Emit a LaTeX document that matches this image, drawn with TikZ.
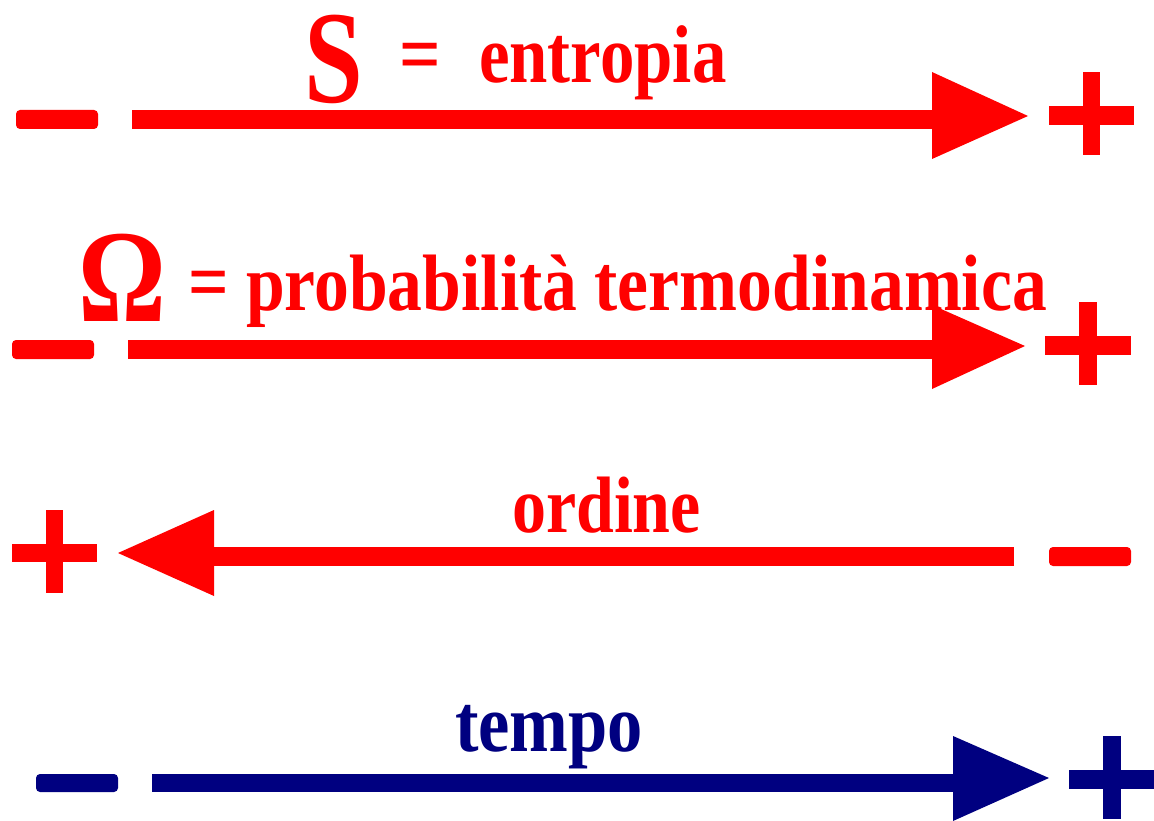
\documentclass[tikz,border=0pt]{standalone}
\usepackage{fontspec}
\setmainfont{Liberation Serif}
\definecolor{redc}{HTML}{FF0000}
\definecolor{navyc}{HTML}{000080}
\tikzset{
  lbl/.style={anchor=base west, inner sep=0pt, outer sep=0pt},
  shaft/.style={line width=19pt},
  minusbar/.style={rounded corners=4pt},
}
\newcommand{\bigtxt}[2]{\fontsize{#1}{#1}\selectfont\bfseries #2}
\begin{document}
\begin{tikzpicture}[x=1pt,y=-1pt]
\useasboundingbox (0,0) rectangle (1154,821);
\fill[white] (0,0) rectangle (1154,821);

% ---------- Row 1 : S = entropia ----------
\begin{scope}[redc]
\node[lbl, text=redc] (S) at (304,103) {\bigtxt{132}{\scalebox{0.8}[1]{S}}};
\node[lbl, text=redc] (eq1) at (399,83) {\bigtxt{84}{\scalebox{0.87}[1]{=}}};
\node[lbl, text=redc] (entropia) at (479,83) {\bigtxt{82}{\scalebox{0.84}[1]{entropia}}};
\fill[minusbar] (16,110) rectangle (98,129);
\coordinate (a1s) at (132,119.5);
\coordinate (a1b) at (933,119.5);
\draw[shaft] (a1s) -- (a1b);
\fill (932,72) -- (1028,116) -- (932,159) -- cycle;
\fill (1049,106) rectangle (1134,125);
\fill (1083,72) rectangle (1100,155);
\end{scope}

% ---------- Row 2 : Omega = probabilita termodinamica ----------
\begin{scope}[redc]
\node[lbl, text=redc] (Om) at (78,321) {\bigtxt{132}{\scalebox{0.83}[1]{Ω}}};
\node[lbl, text=redc] (eq2) at (188,309) {\bigtxt{82}{\scalebox{0.87}[1]{=}}};
\node[lbl, text=redc] (prob) at (246,310) {\bigtxt{80}{\scalebox{0.87}[1]{probabilità termodinamica}}};
\fill[minusbar] (12,340) rectangle (94,359);
\coordinate (a2s) at (128,349.5);
\coordinate (a2b) at (933,349.5);
\draw[shaft] (a2s) -- (a2b);
\fill (932,305) -- (1025,346) -- (932,389) -- cycle;
\fill (1045,336) rectangle (1131,355);
\fill (1079,302) rectangle (1097,385);
\end{scope}

% ---------- Row 3 : ordine ----------
\begin{scope}[redc]
\node[lbl, text=redc] (ordine) at (512,532) {\bigtxt{80}{\scalebox{0.85}[1]{ordine}}};
\fill (12,544) rectangle (97,562);
\fill (46,510) rectangle (63,593);
\coordinate (a3s) at (1014,556.5);
\coordinate (a3b) at (213,556.5);
\draw[shaft] (a3s) -- (a3b);
\fill (214,510) -- (118,553) -- (214,596) -- cycle;
\fill[minusbar] (1049,547) rectangle (1131,566);
\end{scope}

% ---------- Row 4 : tempo ----------
\begin{scope}[navyc]
\node[lbl, text=navyc] (tempo) at (455,751) {\bigtxt{82}{\scalebox{0.86}[1]{tempo}}};
\fill[minusbar] (36,774) rectangle (118,792);
\coordinate (a4s) at (152,783);
\coordinate (a4b) at (954,783);
\draw[shaft, line width=18pt] (a4s) -- (a4b);
\fill (953,736) -- (1049,778) -- (953,821) -- cycle;
\fill (1069,770) rectangle (1154,789);
\fill (1103,736) rectangle (1121,819);
\end{scope}
\end{tikzpicture}
\end{document}
